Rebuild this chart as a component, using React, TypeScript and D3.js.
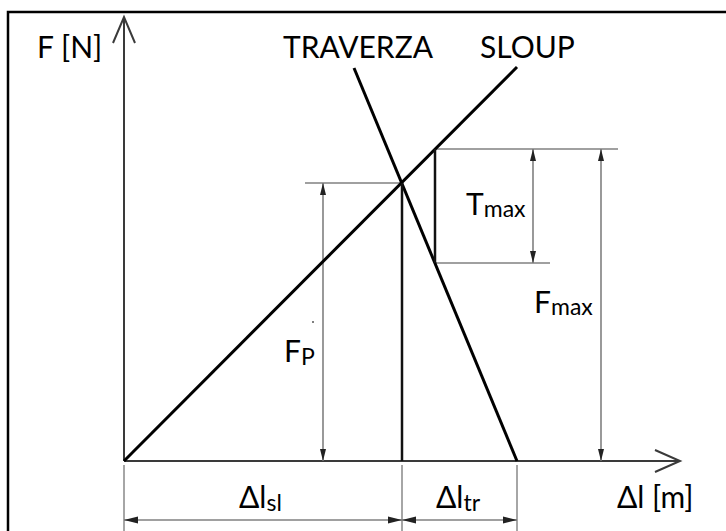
import React from "react";
import * as d3 from "d3";

// Diagram values (deformation units on x, force units on y; origin at 0)
const sloupLine: [number, number][] = [[0, 0], [393, 394]];
const traverzaLine: [number, number][] = [[230, 393], [393, 0]];
const dlSl = 278; // intersection deformation
const Fp = 278; // preload force
const dlTrEnd = 393; // traverza end
const xLoad = 311; // position of load line
const Fmax = 312;
const TmaxLow = 198;
const dimFpX = 199;
const dimTmaxX = 409;
const dimFmaxX = 477;
const extFpStart = 181;
const extFmaxEnd = 494;
const extTmaxEnd = 426;
const dimBottomY = -59;
const axisXMax = 556;
const axisYMax = 444;

const W = 726;
const H = 531;

const x = d3.scaleLinear().domain([0, axisXMax]).range([124, 680]);
const y = d3.scaleLinear().domain([0, axisYMax]).range([461, 17]);
const line = d3.line<[number, number]>().x((d) => x(d[0])).y((d) => y(d[1]));

const FONT = "Lato, 'Open Sans', sans-serif";
const GRAY = "#808080";
const DARK = "#3a3a3a";

function ArrowV({ cx, cy, dir }: { cx: number; cy: number; dir: 1 | -1 }) {
  const len = 12, hw = 3;
  const p = `M${cx},${cy} L${cx - hw},${cy + dir * len} L${cx + hw},${cy + dir * len} Z`;
  return <path d={p} fill="#222" />;
}
function ArrowH({ cx, cy, dir }: { cx: number; cy: number; dir: 1 | -1 }) {
  const len = 14, hw = 3.5;
  const p = `M${cx},${cy} L${cx + dir * len},${cy - hw} L${cx + dir * len},${cy + hw} Z`;
  return <path d={p} fill="#222" />;
}

function DimV({ xv, y1, y2 }: { xv: number; y1: number; y2: number }) {
  const px = x(xv);
  const top = y(Math.max(y1, y2));
  const bot = y(Math.min(y1, y2));
  return (
    <g>
      <line x1={px} x2={px} y1={top} y2={bot} stroke={GRAY} strokeWidth={1.6} />
      <ArrowV cx={px} cy={top} dir={1} />
      <ArrowV cx={px} cy={bot} dir={-1} />
    </g>
  );
}

function DimH({ x1, x2, yv }: { x1: number; x2: number; yv: number }) {
  const a = x(x1), b = x(x2), py = y(yv);
  return (
    <g>
      <line x1={a} x2={b} y1={py} y2={py} stroke={GRAY} strokeWidth={1.6} />
      <ArrowH cx={a} cy={py} dir={1} />
      <ArrowH cx={b} cy={py} dir={-1} />
    </g>
  );
}

export default function App() {
  const main = 30;
  const sub = 23;
  const textColor = "#000";
  return (
    <svg width={W} height={H} style={{ position: "absolute", left: 0, top: 0, background: "#fff" }}>
      <rect x={0} y={0} width={W} height={H} fill="#fff" />
      {/* frame */}
      <rect x={8} y={12} width={760} height={560} fill="none" stroke="#000" strokeWidth={2.5} />

      {/* axes */}
      <line x1={x(0)} x2={x(0)} y1={y(0)} y2={y(axisYMax)} stroke={DARK} strokeWidth={2} />
      <path d={`M${x(0) - 11},${y(axisYMax) + 26} L${x(0)},${y(axisYMax)} L${x(0) + 11},${y(axisYMax) + 26}`} fill="none" stroke={DARK} strokeWidth={2} />
      <line x1={x(0)} x2={x(axisXMax)} y1={y(0)} y2={y(0)} stroke={DARK} strokeWidth={2} />
      <path d={`M${x(axisXMax) - 25},${y(0) - 11} L${x(axisXMax)},${y(0)} L${x(axisXMax) - 25},${y(0) + 11}`} fill="none" stroke={DARK} strokeWidth={2} />

      {/* gray extension lines */}
      <line x1={x(extFpStart)} x2={x(dlSl)} y1={y(Fp)} y2={y(Fp)} stroke={GRAY} strokeWidth={1.6} />
      <line x1={x(xLoad)} x2={x(extFmaxEnd)} y1={y(Fmax)} y2={y(Fmax)} stroke={GRAY} strokeWidth={1.6} />
      <line x1={x(xLoad)} x2={x(extTmaxEnd)} y1={y(TmaxLow)} y2={y(TmaxLow)} stroke={GRAY} strokeWidth={1.6} />

      {/* vertical dimensions */}
      <DimV xv={dimFpX} y1={0} y2={Fp} />
      <DimV xv={dimTmaxX} y1={TmaxLow} y2={Fmax} />
      <DimV xv={dimFmaxX} y1={0} y2={Fmax} />

      {/* bottom extension lines */}
      {[0, dlSl, dlTrEnd].map((v) => (
        <line key={v} x1={x(v)} x2={x(v)} y1={y(-4)} y2={y(-75)} stroke={GRAY} strokeWidth={1.4} />
      ))}
      <DimH x1={0} x2={dlSl} yv={dimBottomY} />
      <DimH x1={dlSl} x2={dlTrEnd} yv={dimBottomY} />

      {/* main lines */}
      <path d={line(sloupLine) || ""} fill="none" stroke="#000" strokeWidth={3} />
      <path d={line(traverzaLine) || ""} fill="none" stroke="#000" strokeWidth={3} />
      <line x1={x(dlSl)} x2={x(dlSl)} y1={y(Fp)} y2={y(0)} stroke="#111" strokeWidth={2.5} />
      <line x1={x(xLoad)} x2={x(xLoad)} y1={y(Fmax)} y2={y(TmaxLow)} stroke="#111" strokeWidth={2.5} />

      {/* tiny artifact dots */}
      <circle cx={313} cy={322} r={1} fill="#555" />
      <circle cx={590} cy={306} r={1} fill="#555" />

      {/* labels */}
      <g fontFamily={FONT} fill={textColor}>
        <text x={37} y={58} fontSize={main}>F [N]</text>
        <text x={283} y={58} fontSize={main}>TRAVERZA</text>
        <text x={480} y={58} fontSize={main}>SLOUP</text>
        <text x={466} y={215} fontSize={main}>T<tspan fontSize={sub} dy={2}>max</tspan></text>
        <text x={534} y={313} fontSize={main}>F<tspan fontSize={sub} dy={2}>max</tspan></text>
        <text x={284} y={362} fontSize={main}>F<tspan fontSize={sub} dy={3}>P</tspan></text>
        <text x={239} y={508} fontSize={main}>Δl<tspan fontSize={sub} dy={3}>sl</tspan></text>
        <text x={436} y={508} fontSize={main}>Δl<tspan fontSize={sub} dy={3}>tr</tspan></text>
        <text x={617} y={508} fontSize={main}>Δl [m]</text>
      </g>
    </svg>
  );
}
